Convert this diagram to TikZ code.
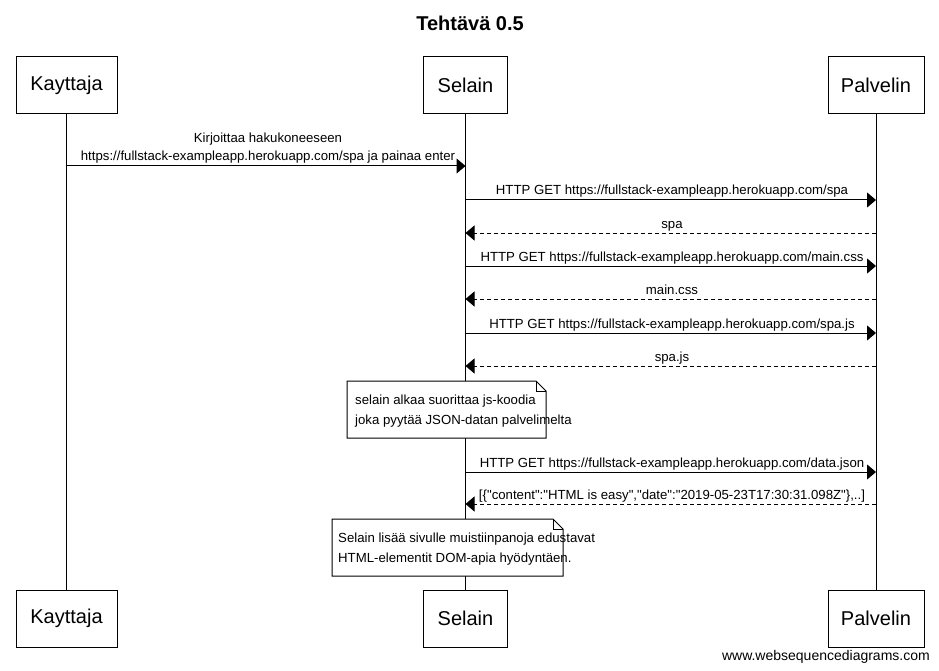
\documentclass[tikz,border=0pt]{standalone}
\usepackage{fontspec}
\setmainfont{Liberation Sans}
\usetikzlibrary{arrows.meta}
\tikzset{
  actor/.style={draw, line width=1pt, inner sep=0pt, font=\fontsize{20}{24}\selectfont},
  life/.style={line width=1pt},
  msg/.style={line width=1pt, -{Triangle[length=9pt,width=15pt]}},
  reply/.style={msg, dash pattern=on 4pt off 3pt},
  lbl/.style={font=\fontsize{13.2}{18}\selectfont, inner sep=0pt, anchor=base},
  notetxt/.style={font=\fontsize{13.2}{20}\selectfont, inner sep=0pt, anchor=base west},
  notebox/.style={line width=1pt, fill=white}
}
\begin{document}
\begin{tikzpicture}[x=1pt,y=-1pt]
\useasboundingbox (0,0) rectangle (939,671);
\fill[white] (0,0) rectangle (939,671);
\node[font=\bfseries\fontsize{20}{24}\selectfont, anchor=base] (title) at (470,31) {Tehtävä 0.5};
% actors top
\node[actor, minimum width=101pt, minimum height=57pt] (kt) at (66.5,85.5) {Kayttaja};
\node[actor, minimum width=84pt, minimum height=57pt] (st) at (465.5,85.5) {Selain};
\node[actor, minimum width=96pt, minimum height=57pt] (pt) at (876,85.5) {Palvelin};
% actors bottom
\node[actor, minimum width=101pt, minimum height=57pt] (kb) at (66.5,618.5) {Kayttaja};
\node[actor, minimum width=84pt, minimum height=57pt] (sb) at (465.5,618.5) {Selain};
\node[actor, minimum width=96pt, minimum height=57pt] (pb) at (876,618.5) {Palvelin};
% lifelines
\draw[life] (kt.south) -- (kb.north);
\draw[life] (st.south) -- (sb.north);
\draw[life] (pt.south) -- (pb.north);
% message endpoints
\foreach \n/\y in {1/166,2/200,3/233,4/266,5/299,6/333,7/366,8/472,9/504}{
  \coordinate (k\n) at (66.5,\y);
  \coordinate (s\n) at (465.5,\y);
  \coordinate (p\n) at (876,\y);
}
\draw[msg] (k1) -- (s1);
\node[lbl] (l1a) at (268,143) {Kirjoittaa hakukoneeseen};
\node[lbl] (l1b) at (268,161) {https://fullstack-exampleapp.herokuapp.com/spa ja painaa enter};
\draw[msg] (s2) -- (p2);
\node[lbl] (l2) at (672,195) {HTTP GET https://fullstack-exampleapp.herokuapp.com/spa};
\draw[reply] (p3) -- (s3);
\node[lbl] (l3) at (672,228) {spa};
\draw[msg] (s4) -- (p4);
\node[lbl] (l4) at (672,261) {HTTP GET https://fullstack-exampleapp.herokuapp.com/main.css};
\draw[reply] (p5) -- (s5);
\node[lbl] (l5) at (672,294) {main.css};
\draw[msg] (s6) -- (p6);
\node[lbl] (l6) at (672,328) {HTTP GET https://fullstack-exampleapp.herokuapp.com/spa.js};
\draw[reply] (p7) -- (s7);
\node[lbl] (l7) at (672,361) {spa.js};
% note 1
\coordinate (n1a) at (347,381);
\coordinate (n1b) at (546,438);
\draw[notebox] (n1a) -- (536,381) -- (546,391) -- (n1b) -- (347,438) -- cycle;
\draw[line width=0.8pt] (536,381) -- (536,391) -- (546,391);
\node[notetxt] (n1t) at (355,404) {selain alkaa suorittaa js-koodia};
\node[notetxt] (n1u) at (355,424) {joka pyytää JSON-datan palvelimelta};
% data.json
\draw[msg] (s8) -- (p8);
\node[lbl] (l8) at (672,467) {HTTP GET https://fullstack-exampleapp.herokuapp.com/data.json};
\draw[reply] (p9) -- (s9);
\node[lbl] (l9) at (672,499) {[\{\textquotedbl content\textquotedbl:\textquotedbl HTML is easy\textquotedbl,\textquotedbl date\textquotedbl:\textquotedbl 2019-05-23T17:30:31.098Z\textquotedbl\},..]};
% note 2
\coordinate (n2a) at (332,519);
\coordinate (n2b) at (563,576);
\draw[notebox] (n2a) -- (553,519) -- (563,529) -- (n2b) -- (332,576) -- cycle;
\draw[line width=0.8pt] (553,519) -- (553,529) -- (563,529);
\node[notetxt] (n2t) at (338,542) {Selain lisää sivulle muistiinpanoja edustavat};
\node[notetxt] (n2u) at (338,562) {HTML-elementit DOM-apia hyödyntäen.};
% watermark
\node[font=\fontsize{14}{16}\selectfont, inner sep=0pt, anchor=base east] (wm) at (930,660) {www.websequencediagrams.com};
\end{tikzpicture}
\end{document}
